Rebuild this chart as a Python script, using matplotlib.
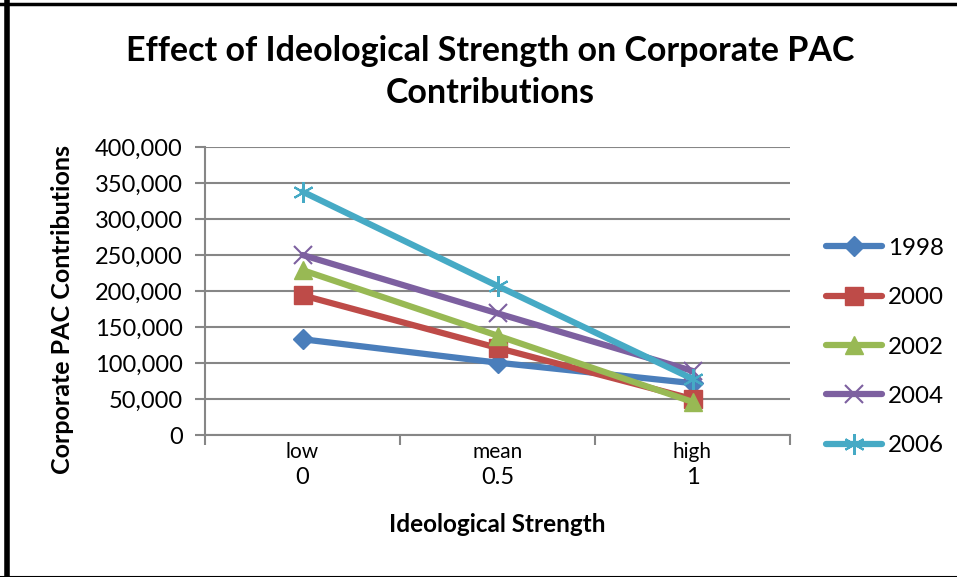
from matplotlib import pyplot as plt
from matplotlib.lines import Line2D
from matplotlib.ticker import FuncFormatter, MultipleLocator

# values
levels = ["low", "mean", "high"]
strength = ["0", "0.5", "1"]
years = ["1998", "2000", "2002", "2004", "2006"]
c1998 = [133000, 100500, 72000]
c2000 = [194000, 121000, 50000]
c2002 = [229000, 138000, 46000]
c2004 = [250000, 169000, 89000]
c2006 = [338000, 207000, 78000]

series = [c1998, c2000, c2002, c2004, c2006]
colors = ["#4a7ebb", "#be4b48", "#98b954", "#7d60a0", "#46aac5"]
markers = ["D", "s", "^", "x", (6, 2, 0)]
msizes = [10, 13, 13, 13, 15]

plt.rcParams["font.family"] = ["Lato", "DejaVu Sans"]

fig = plt.figure(figsize=(9.57, 5.77), dpi=100)
ax = fig.add_axes([205 / 957, 1 - 435 / 577, 585 / 957, 288 / 577])

x = list(range(len(levels)))
for vals, yr, col, mk, ms in zip(series, years, colors, markers, msizes):
    ax.plot(x, vals, color=col, lw=4.5, marker=mk, markersize=ms,
            markeredgewidth=1.5 if mk in ("x", (6, 2, 0)) else 1,
            markeredgecolor=col, markerfacecolor=col, label=yr,
            solid_capstyle="round", clip_on=False)

ax.set_xlim(-0.5, 2.5)
ax.set_ylim(0, 400000)
ax.yaxis.set_major_locator(MultipleLocator(50000))
ax.yaxis.set_major_formatter(FuncFormatter(lambda v, p: "0" if v == 0 else f"{int(v):,}"))
ax.grid(axis="y", color="#868686", lw=1.5)
ax.set_axisbelow(True)
for s in ["top", "right"]:
    ax.spines[s].set_visible(False)
for s in ["left", "bottom"]:
    ax.spines[s].set_color("#868686")
    ax.spines[s].set_linewidth(1.5)

ax.set_xticks([-0.5, 0.5, 1.5, 2.5])
ax.set_xticklabels([])
ax.tick_params(axis="x", length=7, width=1.5, color="#868686", direction="out")
ax.tick_params(axis="y", length=7, width=1.5, color="#868686", direction="out",
               labelsize=17, pad=9)

# two-level category labels
for i, (lv, st) in enumerate(zip(levels, strength)):
    ax.text(i, -0.025, lv, transform=ax.get_xaxis_transform(), ha="center", va="top", fontsize=15)
    ax.text(i, -0.112, st, transform=ax.get_xaxis_transform(), ha="center", va="top", fontsize=17)

ax.set_xlabel("Ideological Strength", fontsize=17.5, fontweight="bold", labelpad=46)
ax.set_ylabel("Corporate PAC Contributions", fontsize=18, fontweight="bold")
ax.yaxis.set_label_coords(63 / 957, 1 - 310 / 577, transform=fig.transFigure)
ax.yaxis.label.set_va("center")

fig.text(0.512, 0.94, "Effect of Ideological Strength on Corporate PAC\nContributions",
         ha="center", va="top", fontsize=24.5, fontweight="bold", linespacing=1.4)

ax.legend(loc="center left", bbox_to_anchor=(826 / 957, 1 - 347 / 577),
          bbox_transform=fig.transFigure, frameon=False, fontsize=17.4, borderpad=0,
          borderaxespad=0, handlelength=2.3, labelspacing=1.17, handletextpad=0.25)

# outer frame
fig.add_artist(Line2D([6.5 / 957, 6.5 / 957], [0, 1], transform=fig.transFigure, color="black", lw=4))
fig.add_artist(Line2D([0, 1], [1 - 3.5 / 577, 1 - 3.5 / 577], transform=fig.transFigure, color="black", lw=2.5))
fig.add_artist(Line2D([0, 1], [0.5 / 577, 0.5 / 577], transform=fig.transFigure, color="black", lw=1.5))

fig.savefig("out.png", dpi=100)
